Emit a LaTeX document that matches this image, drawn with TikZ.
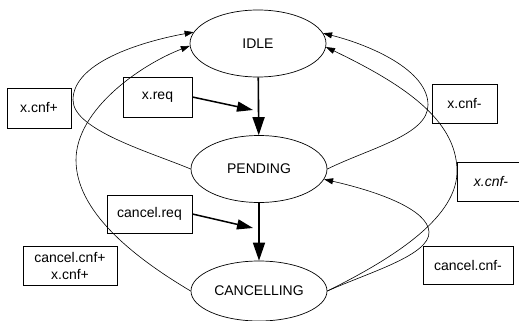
\documentclass[tikz,border=0pt]{standalone}
\usepackage{fontspec}
\setmainfont{Liberation Sans}
\usetikzlibrary{shapes.geometric,arrows.meta}
\begin{document}
\begin{tikzpicture}[x=1pt,y=-1pt,
  font=\fontsize{14}{17}\selectfont,
  state/.style={draw,ellipse,line width=0.7pt,inner sep=0pt,
    minimum width=136pt,minimum height=67pt},
  lbl/.style={draw,rectangle,line width=0.7pt,inner sep=0pt,align=center},
  bold/.style={line width=1.6pt,-{Triangle[length=18pt,width=12pt]}},
  feed/.style={line width=1.5pt,-{Triangle[length=16pt,width=10pt]}},
  back/.style={line width=0.6pt,-{Triangle[length=9pt,width=6pt]}}]
\useasboundingbox (0,0) rectangle (519,321);

% states
\node[state] (idle) at (258,43.5) {IDLE};
\node[state] (pending) at (259,169) {PENDING};
\node[state,minimum height=60pt] (cancelling) at (259,291) {CANCELLING};

% event labels
\node[lbl,minimum width=64pt,minimum height=40pt] (xcnfp) at (39,108) {x.cnf+};
\node[lbl,minimum width=69pt,minimum height=40pt] (xreq) at (157.5,97) {x.req};
\node[lbl,minimum width=85pt,minimum height=38pt] (cancelreq) at (149.5,214) {cancel.req};
\node[lbl,minimum width=94pt,minimum height=39pt] (ccnfp) at (70,265.5) {cancel.cnf+\\x.cnf+};
\node[lbl,minimum width=65pt,minimum height=39pt] (xcnfm) at (464.5,103.5) {x.cnf-};
\node[lbl,minimum width=68pt,minimum height=39pt] (xcnfmi) at (491,181.5) {\itshape x.cnf-};
\node[lbl,minimum width=90pt,minimum height=38pt] (ccnfm) at (468,265) {cancel.cnf-};

% request transitions
\draw[bold] (idle) -- (pending);
\draw[bold] (pending) -- (cancelling);
\coordinate (xreqtip) at (253,110);
\coordinate (creqtip) at (253,228);
\draw[feed] (xreq.east) -- (xreqtip);
\draw[feed] (cancelreq.east) -- (creqtip);

% confirmation transitions
\draw[back] (pending.180) .. controls (150,152) and (73,130) .. (73,100)
  .. controls (73,60) and (150,40) .. (idle.170);
\draw[back] (cancelling.180) .. controls (130,255) and (76,210) .. (76,160)
  .. controls (76,110) and (140,65) .. (idle.182);
\draw[back] (pending.0) .. controls (370,148) and (428,135) .. (428,105)
  .. controls (428,70) and (370,45) .. (idle.9);
\draw[back] (cancelling.0) .. controls (400,255) and (458,215) .. (457,170)
  .. controls (456,120) and (405,85) .. (idle.-3);
\draw[back] (cancelling.0) .. controls (370,272) and (430,255) .. (429,232)
  .. controls (428,210) and (380,192) .. (pending.-9);
\end{tikzpicture}
\end{document}
